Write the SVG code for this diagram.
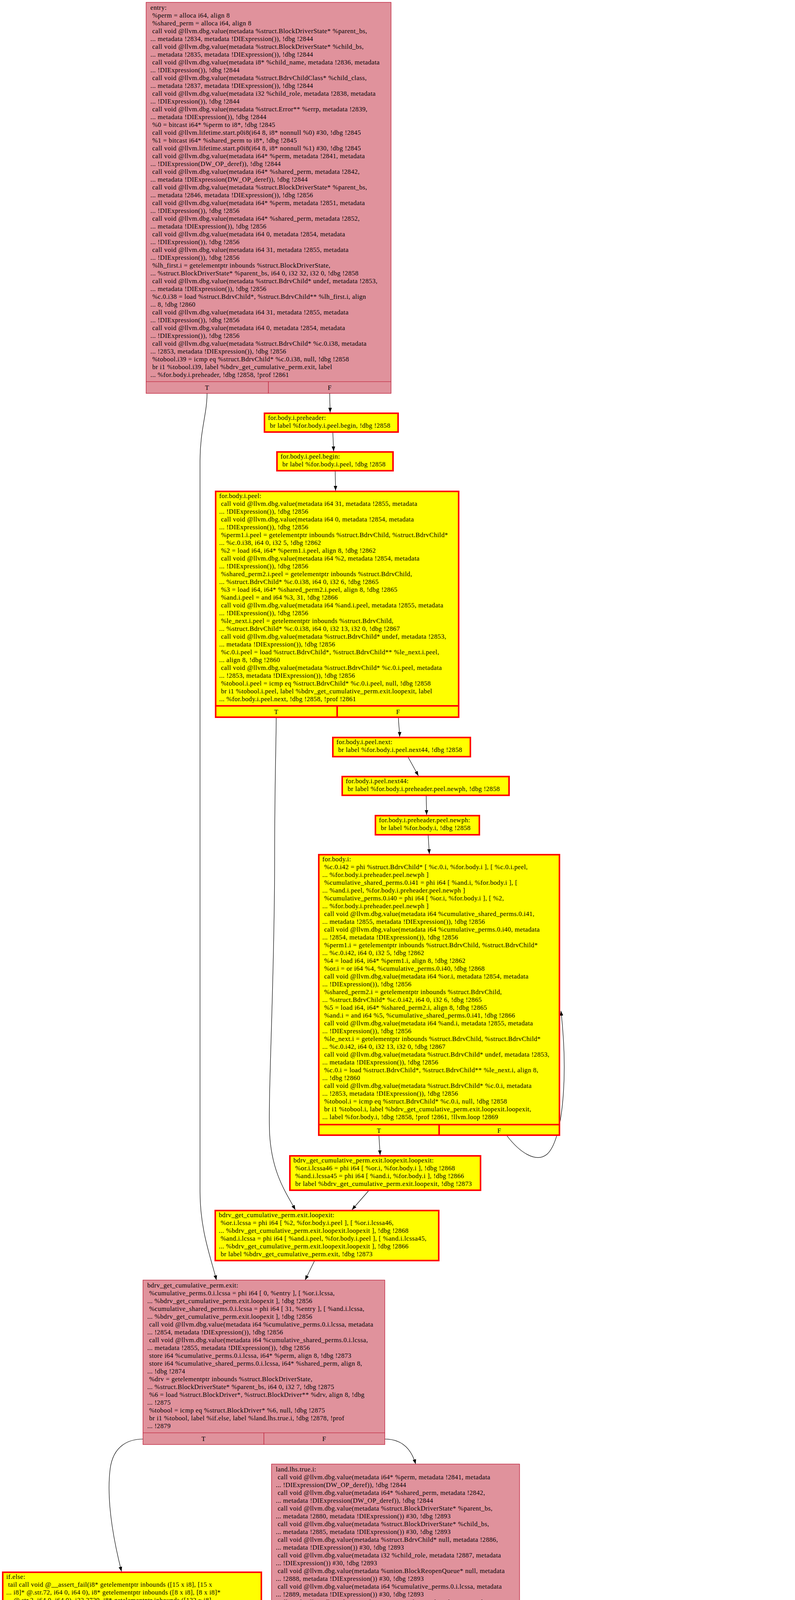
<svg xmlns="http://www.w3.org/2000/svg" width="2035" height="6509" viewBox="0 0 2035 6509">
<style>
.pk{fill:#e0929c;stroke:#b70d28;stroke-width:1.2}
.pl{fill:none;stroke:#b70d28;stroke-width:1.2}
.yl{fill:#ffff00;stroke:#ff0000;stroke-width:4}
.wh{fill:#ffffff;stroke:#ff0000;stroke-width:4}
.rl{fill:none;stroke:#ff0000;stroke-width:4}
text{font-family:"Liberation Serif","Times New Roman",serif;font-size:16.8px;letter-spacing:0.45px;fill:#000}
.c{text-anchor:middle}
.e{fill:none;stroke:#000;stroke-width:1.2;marker-end:url(#ah)}
</style>
<defs>
<marker id="ah" markerUnits="userSpaceOnUse" markerWidth="13" markerHeight="10" refX="12" refY="4.5" orient="auto"><path d="M0,0L12,4.5L0,9z" fill="#000"/></marker>
</defs>
<rect x="0" y="0" width="2035" height="6509" fill="#fff"/>

<g id="edges">
<path class="e" d="M530,1007C530,1060 512,1100 512,1180L512,3050C512,3150 540,3220 554,3277"/>
<path class="e" d="M844,1007C844,1030 845,1040 845,1056"/>
<path class="e" d="M852,1108L854,1155"/>
<path class="e" d="M858,1207L859,1256"/>
<path class="e" d="M707,1838C707,1900 703,2000 703,2200C703,2500 686,2800 690,2900C695,3000 730,3050 756,3097"/>
<path class="e" d="M1020,1838C1020,1855 1023,1870 1023,1886"/>
<path class="e" d="M1045,1939L1071,1986"/>
<path class="e" d="M1091,2038L1092,2086"/>
<path class="e" d="M1096,2139L1099,2186"/>
<path class="e" d="M970,2908L973,2957"/>
<path class="e" d="M1298,2908C1330,2950 1372,2978 1400,2955C1440,2920 1455,2760 1436,2588"/>
<path class="e" d="M943,3049L901,3097"/>
<path class="e" d="M805,3228L781,3277"/>
<path class="e" d="M366,3684C330,3684 290,3700 282,3760C272,3840 290,3940 311,4023"/>
<path class="e" d="M985,3684C1020,3684 1050,3700 1064,3748"/>
<path class="e" d="M695,4434C686,4440 682,4470 680,4523"/>
<path class="e" d="M1330,4434C1355,4434 1366,4460 1368,4499"/>
<path class="e" d="M1189,4700C1189,4800 1195,4900 1220,4980C1240,5040 1255,5070 1264,5100"/>
<path class="e" d="M1508,4700L1508,4750"/>
<path class="e" d="M1367,4931L1367,5100"/>
<path class="e" d="M1655,4931C1655,4950 1652,4965 1651,4980"/>
<path class="e" d="M1605,5052L1566,5100"/>
<path class="e" d="M1203,5582C1203,5750 1145,5900 1145,6064C1145,6200 1200,6320 1269,6382"/>
<path class="e" d="M1531,5582L1531,5631"/>
<path class="e" d="M1387,5893C1387,5980 1360,6050 1380,6100C1392,6130 1405,6150 1419,6162"/>
<path class="e" d="M1690,5893C1690,5915 1692,5925 1692,5942"/>
<path class="e" d="M1645,6113L1607,6162"/>
<path class="e" d="M1457,6333L1413,6382"/>
</g>

<g id="entry">
<rect class="pk" x="374" y="6" width="627" height="1001"/>
<path class="pl" d="M374,977H1001M687,977V1007"/>
<text x="385" y="25" xml:space="preserve"><tspan x="385">entry:</tspan><tspan x="385" dy="20"> %perm = alloca i64, align 8</tspan><tspan x="385" dy="20"> %shared_perm = alloca i64, align 8</tspan><tspan x="385" dy="20"> call void @llvm.dbg.value(metadata %struct.BlockDriverState* %parent_bs,</tspan><tspan x="385" dy="20">... metadata !2834, metadata !DIExpression()), !dbg !2844</tspan><tspan x="385" dy="20"> call void @llvm.dbg.value(metadata %struct.BlockDriverState* %child_bs,</tspan><tspan x="385" dy="20">... metadata !2835, metadata !DIExpression()), !dbg !2844</tspan><tspan x="385" dy="20"> call void @llvm.dbg.value(metadata i8* %child_name, metadata !2836, metadata</tspan><tspan x="385" dy="20">... !DIExpression()), !dbg !2844</tspan><tspan x="385" dy="20"> call void @llvm.dbg.value(metadata %struct.BdrvChildClass* %child_class,</tspan><tspan x="385" dy="20">... metadata !2837, metadata !DIExpression()), !dbg !2844</tspan><tspan x="385" dy="20"> call void @llvm.dbg.value(metadata i32 %child_role, metadata !2838, metadata</tspan><tspan x="385" dy="20">... !DIExpression()), !dbg !2844</tspan><tspan x="385" dy="20"> call void @llvm.dbg.value(metadata %struct.Error** %errp, metadata !2839,</tspan><tspan x="385" dy="20">... metadata !DIExpression()), !dbg !2844</tspan><tspan x="385" dy="20"> %0 = bitcast i64* %perm to i8*, !dbg !2845</tspan><tspan x="385" dy="20"> call void @llvm.lifetime.start.p0i8(i64 8, i8* nonnull %0) #30, !dbg !2845</tspan><tspan x="385" dy="20"> %1 = bitcast i64* %shared_perm to i8*, !dbg !2845</tspan><tspan x="385" dy="20"> call void @llvm.lifetime.start.p0i8(i64 8, i8* nonnull %1) #30, !dbg !2845</tspan><tspan x="385" dy="20"> call void @llvm.dbg.value(metadata i64* %perm, metadata !2841, metadata</tspan><tspan x="385" dy="20">... !DIExpression(DW_OP_deref)), !dbg !2844</tspan><tspan x="385" dy="20"> call void @llvm.dbg.value(metadata i64* %shared_perm, metadata !2842,</tspan><tspan x="385" dy="20">... metadata !DIExpression(DW_OP_deref)), !dbg !2844</tspan><tspan x="385" dy="20"> call void @llvm.dbg.value(metadata %struct.BlockDriverState* %parent_bs,</tspan><tspan x="385" dy="20">... metadata !2846, metadata !DIExpression()), !dbg !2856</tspan><tspan x="385" dy="20"> call void @llvm.dbg.value(metadata i64* %perm, metadata !2851, metadata</tspan><tspan x="385" dy="20">... !DIExpression()), !dbg !2856</tspan><tspan x="385" dy="20"> call void @llvm.dbg.value(metadata i64* %shared_perm, metadata !2852,</tspan><tspan x="385" dy="20">... metadata !DIExpression()), !dbg !2856</tspan><tspan x="385" dy="20"> call void @llvm.dbg.value(metadata i64 0, metadata !2854, metadata</tspan><tspan x="385" dy="20">... !DIExpression()), !dbg !2856</tspan><tspan x="385" dy="20"> call void @llvm.dbg.value(metadata i64 31, metadata !2855, metadata</tspan><tspan x="385" dy="20">... !DIExpression()), !dbg !2856</tspan><tspan x="385" dy="20"> %lh_first.i = getelementptr inbounds %struct.BlockDriverState,</tspan><tspan x="385" dy="20">... %struct.BlockDriverState* %parent_bs, i64 0, i32 32, i32 0, !dbg !2858</tspan><tspan x="385" dy="20"> call void @llvm.dbg.value(metadata %struct.BdrvChild* undef, metadata !2853,</tspan><tspan x="385" dy="20">... metadata !DIExpression()), !dbg !2856</tspan><tspan x="385" dy="20"> %c.0.i38 = load %struct.BdrvChild*, %struct.BdrvChild** %lh_first.i, align</tspan><tspan x="385" dy="20">... 8, !dbg !2860</tspan><tspan x="385" dy="20"> call void @llvm.dbg.value(metadata i64 31, metadata !2855, metadata</tspan><tspan x="385" dy="20">... !DIExpression()), !dbg !2856</tspan><tspan x="385" dy="20"> call void @llvm.dbg.value(metadata i64 0, metadata !2854, metadata</tspan><tspan x="385" dy="20">... !DIExpression()), !dbg !2856</tspan><tspan x="385" dy="20"> call void @llvm.dbg.value(metadata %struct.BdrvChild* %c.0.i38, metadata</tspan><tspan x="385" dy="20">... !2853, metadata !DIExpression()), !dbg !2856</tspan><tspan x="385" dy="20"> %tobool.i39 = icmp eq %struct.BdrvChild* %c.0.i38, null, !dbg !2858</tspan><tspan x="385" dy="20"> br i1 %tobool.i39, label %bdrv_get_cumulative_perm.exit, label</tspan><tspan x="385" dy="20">... %for.body.i.preheader, !dbg !2858, !prof !2861</tspan></text>
<text class="c" x="530" y="998">T</text><text class="c" x="844" y="998">F</text>
</g>

<g id="for.body.i.preheader">
<rect class="yl" x="677" y="1058" width="342" height="48"/>
<text x="686" y="1075" xml:space="preserve"><tspan x="686">for.body.i.preheader:</tspan><tspan x="686" dy="20"> br label %for.body.i.peel.begin, !dbg !2858</tspan></text>
</g>

<g id="for.body.i.peel.begin">
<rect class="yl" x="709" y="1157" width="297" height="48"/>
<text x="718" y="1174" xml:space="preserve"><tspan x="718">for.body.i.peel.begin:</tspan><tspan x="718" dy="20"> br label %for.body.i.peel, !dbg !2858</tspan></text>
</g>

<g id="for.body.i.peel">
<rect class="yl" x="552" y="1258" width="622" height="578"/>
<path class="rl" d="M552,1807H1174M863,1807V1836"/>
<text x="561" y="1275" xml:space="preserve"><tspan x="561">for.body.i.peel:</tspan><tspan x="561" dy="20"> call void @llvm.dbg.value(metadata i64 31, metadata !2855, metadata</tspan><tspan x="561" dy="20">... !DIExpression()), !dbg !2856</tspan><tspan x="561" dy="20"> call void @llvm.dbg.value(metadata i64 0, metadata !2854, metadata</tspan><tspan x="561" dy="20">... !DIExpression()), !dbg !2856</tspan><tspan x="561" dy="20"> %perm1.i.peel = getelementptr inbounds %struct.BdrvChild, %struct.BdrvChild*</tspan><tspan x="561" dy="20">... %c.0.i38, i64 0, i32 5, !dbg !2862</tspan><tspan x="561" dy="20"> %2 = load i64, i64* %perm1.i.peel, align 8, !dbg !2862</tspan><tspan x="561" dy="20"> call void @llvm.dbg.value(metadata i64 %2, metadata !2854, metadata</tspan><tspan x="561" dy="20">... !DIExpression()), !dbg !2856</tspan><tspan x="561" dy="20"> %shared_perm2.i.peel = getelementptr inbounds %struct.BdrvChild,</tspan><tspan x="561" dy="20">... %struct.BdrvChild* %c.0.i38, i64 0, i32 6, !dbg !2865</tspan><tspan x="561" dy="20"> %3 = load i64, i64* %shared_perm2.i.peel, align 8, !dbg !2865</tspan><tspan x="561" dy="20"> %and.i.peel = and i64 %3, 31, !dbg !2866</tspan><tspan x="561" dy="20"> call void @llvm.dbg.value(metadata i64 %and.i.peel, metadata !2855, metadata</tspan><tspan x="561" dy="20">... !DIExpression()), !dbg !2856</tspan><tspan x="561" dy="20"> %le_next.i.peel = getelementptr inbounds %struct.BdrvChild,</tspan><tspan x="561" dy="20">... %struct.BdrvChild* %c.0.i38, i64 0, i32 13, i32 0, !dbg !2867</tspan><tspan x="561" dy="20"> call void @llvm.dbg.value(metadata %struct.BdrvChild* undef, metadata !2853,</tspan><tspan x="561" dy="20">... metadata !DIExpression()), !dbg !2856</tspan><tspan x="561" dy="20"> %c.0.i.peel = load %struct.BdrvChild*, %struct.BdrvChild** %le_next.i.peel,</tspan><tspan x="561" dy="20">... align 8, !dbg !2860</tspan><tspan x="561" dy="20"> call void @llvm.dbg.value(metadata %struct.BdrvChild* %c.0.i.peel, metadata</tspan><tspan x="561" dy="20">... !2853, metadata !DIExpression()), !dbg !2856</tspan><tspan x="561" dy="20"> %tobool.i.peel = icmp eq %struct.BdrvChild* %c.0.i.peel, null, !dbg !2858</tspan><tspan x="561" dy="20"> br i1 %tobool.i.peel, label %bdrv_get_cumulative_perm.exit.loopexit, label</tspan><tspan x="561" dy="20">... %for.body.i.peel.next, !dbg !2858, !prof !2861</tspan></text>
<text class="c" x="707" y="1828">T</text><text class="c" x="1019" y="1828">F</text>
</g>

<g id="for.body.i.peel.next">
<rect class="yl" x="852" y="1888" width="352" height="49"/>
<text x="861" y="1905" xml:space="preserve"><tspan x="861">for.body.i.peel.next:</tspan><tspan x="861" dy="20"> br label %for.body.i.peel.next44, !dbg !2858</tspan></text>
</g>

<g id="for.body.i.peel.next44">
<rect class="yl" x="876" y="1988" width="427" height="48"/>
<text x="885" y="2005" xml:space="preserve"><tspan x="885">for.body.i.peel.next44:</tspan><tspan x="885" dy="20"> br label %for.body.i.preheader.peel.newph, !dbg !2858</tspan></text>
</g>

<g id="for.body.i.preheader.peel.newph">
<rect class="yl" x="961" y="2088" width="266" height="49"/>
<text x="970" y="2105" xml:space="preserve"><tspan x="970">for.body.i.preheader.peel.newph:</tspan><tspan x="970" dy="20"> br label %for.body.i, !dbg !2858</tspan></text>
</g>

<g id="for.body.i">
<rect class="yl" x="816" y="2188" width="616" height="718"/>
<path class="rl" d="M816,2879H1432M1124,2879V2906"/>
<text x="825" y="2205" xml:space="preserve"><tspan x="825">for.body.i:</tspan><tspan x="825" dy="20"> %c.0.i42 = phi %struct.BdrvChild* [ %c.0.i, %for.body.i ], [ %c.0.i.peel,</tspan><tspan x="825" dy="20">... %for.body.i.preheader.peel.newph ]</tspan><tspan x="825" dy="20"> %cumulative_shared_perms.0.i41 = phi i64 [ %and.i, %for.body.i ], [</tspan><tspan x="825" dy="20">... %and.i.peel, %for.body.i.preheader.peel.newph ]</tspan><tspan x="825" dy="20"> %cumulative_perms.0.i40 = phi i64 [ %or.i, %for.body.i ], [ %2,</tspan><tspan x="825" dy="20">... %for.body.i.preheader.peel.newph ]</tspan><tspan x="825" dy="20"> call void @llvm.dbg.value(metadata i64 %cumulative_shared_perms.0.i41,</tspan><tspan x="825" dy="20">... metadata !2855, metadata !DIExpression()), !dbg !2856</tspan><tspan x="825" dy="20"> call void @llvm.dbg.value(metadata i64 %cumulative_perms.0.i40, metadata</tspan><tspan x="825" dy="20">... !2854, metadata !DIExpression()), !dbg !2856</tspan><tspan x="825" dy="20"> %perm1.i = getelementptr inbounds %struct.BdrvChild, %struct.BdrvChild*</tspan><tspan x="825" dy="20">... %c.0.i42, i64 0, i32 5, !dbg !2862</tspan><tspan x="825" dy="20"> %4 = load i64, i64* %perm1.i, align 8, !dbg !2862</tspan><tspan x="825" dy="20"> %or.i = or i64 %4, %cumulative_perms.0.i40, !dbg !2868</tspan><tspan x="825" dy="20"> call void @llvm.dbg.value(metadata i64 %or.i, metadata !2854, metadata</tspan><tspan x="825" dy="20">... !DIExpression()), !dbg !2856</tspan><tspan x="825" dy="20"> %shared_perm2.i = getelementptr inbounds %struct.BdrvChild,</tspan><tspan x="825" dy="20">... %struct.BdrvChild* %c.0.i42, i64 0, i32 6, !dbg !2865</tspan><tspan x="825" dy="20"> %5 = load i64, i64* %shared_perm2.i, align 8, !dbg !2865</tspan><tspan x="825" dy="20"> %and.i = and i64 %5, %cumulative_shared_perms.0.i41, !dbg !2866</tspan><tspan x="825" dy="20"> call void @llvm.dbg.value(metadata i64 %and.i, metadata !2855, metadata</tspan><tspan x="825" dy="20">... !DIExpression()), !dbg !2856</tspan><tspan x="825" dy="20"> %le_next.i = getelementptr inbounds %struct.BdrvChild, %struct.BdrvChild*</tspan><tspan x="825" dy="20">... %c.0.i42, i64 0, i32 13, i32 0, !dbg !2867</tspan><tspan x="825" dy="20"> call void @llvm.dbg.value(metadata %struct.BdrvChild* undef, metadata !2853,</tspan><tspan x="825" dy="20">... metadata !DIExpression()), !dbg !2856</tspan><tspan x="825" dy="20"> %c.0.i = load %struct.BdrvChild*, %struct.BdrvChild** %le_next.i, align 8,</tspan><tspan x="825" dy="20">... !dbg !2860</tspan><tspan x="825" dy="20"> call void @llvm.dbg.value(metadata %struct.BdrvChild* %c.0.i, metadata</tspan><tspan x="825" dy="20">... !2853, metadata !DIExpression()), !dbg !2856</tspan><tspan x="825" dy="20"> %tobool.i = icmp eq %struct.BdrvChild* %c.0.i, null, !dbg !2858</tspan><tspan x="825" dy="20"> br i1 %tobool.i, label %bdrv_get_cumulative_perm.exit.loopexit.loopexit,</tspan><tspan x="825" dy="20">... label %for.body.i, !dbg !2858, !prof !2861, !llvm.loop !2869</tspan></text>
<text class="c" x="970" y="2900">T</text><text class="c" x="1278" y="2900">F</text>
</g>

<g id="bdrv_get_cumulative_perm.exit.loopexit.loopexit">
<rect class="yl" x="742" y="2959" width="488" height="88"/>
<text x="751" y="2976" xml:space="preserve"><tspan x="751">bdrv_get_cumulative_perm.exit.loopexit.loopexit:</tspan><tspan x="751" dy="20"> %or.i.lcssa46 = phi i64 [ %or.i, %for.body.i ], !dbg !2868</tspan><tspan x="751" dy="20"> %and.i.lcssa45 = phi i64 [ %and.i, %for.body.i ], !dbg !2866</tspan><tspan x="751" dy="20"> br label %bdrv_get_cumulative_perm.exit.loopexit, !dbg !2873</tspan></text>
</g>

<g id="bdrv_get_cumulative_perm.exit.loopexit">
<rect class="yl" x="551" y="3099" width="572" height="128"/>
<text x="560" y="3116" xml:space="preserve"><tspan x="560">bdrv_get_cumulative_perm.exit.loopexit:</tspan><tspan x="560" dy="20"> %or.i.lcssa = phi i64 [ %2, %for.body.i.peel ], [ %or.i.lcssa46,</tspan><tspan x="560" dy="20">... %bdrv_get_cumulative_perm.exit.loopexit.loopexit ], !dbg !2868</tspan><tspan x="560" dy="20"> %and.i.lcssa = phi i64 [ %and.i.peel, %for.body.i.peel ], [ %and.i.lcssa45,</tspan><tspan x="560" dy="20">... %bdrv_get_cumulative_perm.exit.loopexit.loopexit ], !dbg !2866</tspan><tspan x="560" dy="20"> br label %bdrv_get_cumulative_perm.exit, !dbg !2873</tspan></text>
</g>

<g id="bdrv_get_cumulative_perm.exit">
<rect class="pk" x="366" y="3277" width="619" height="421"/>
<path class="pl" d="M366,3668H985M675.5,3668V3698"/>
<text x="377" y="3296" xml:space="preserve"><tspan x="377">bdrv_get_cumulative_perm.exit:</tspan><tspan x="377" dy="20"> %cumulative_perms.0.i.lcssa = phi i64 [ 0, %entry ], [ %or.i.lcssa,</tspan><tspan x="377" dy="20">... %bdrv_get_cumulative_perm.exit.loopexit ], !dbg !2856</tspan><tspan x="377" dy="20"> %cumulative_shared_perms.0.i.lcssa = phi i64 [ 31, %entry ], [ %and.i.lcssa,</tspan><tspan x="377" dy="20">... %bdrv_get_cumulative_perm.exit.loopexit ], !dbg !2856</tspan><tspan x="377" dy="20"> call void @llvm.dbg.value(metadata i64 %cumulative_perms.0.i.lcssa, metadata</tspan><tspan x="377" dy="20">... !2854, metadata !DIExpression()), !dbg !2856</tspan><tspan x="377" dy="20"> call void @llvm.dbg.value(metadata i64 %cumulative_shared_perms.0.i.lcssa,</tspan><tspan x="377" dy="20">... metadata !2855, metadata !DIExpression()), !dbg !2856</tspan><tspan x="377" dy="20"> store i64 %cumulative_perms.0.i.lcssa, i64* %perm, align 8, !dbg !2873</tspan><tspan x="377" dy="20"> store i64 %cumulative_shared_perms.0.i.lcssa, i64* %shared_perm, align 8,</tspan><tspan x="377" dy="20">... !dbg !2874</tspan><tspan x="377" dy="20"> %drv = getelementptr inbounds %struct.BlockDriverState,</tspan><tspan x="377" dy="20">... %struct.BlockDriverState* %parent_bs, i64 0, i32 7, !dbg !2875</tspan><tspan x="377" dy="20"> %6 = load %struct.BlockDriver*, %struct.BlockDriver** %drv, align 8, !dbg</tspan><tspan x="377" dy="20">... !2875</tspan><tspan x="377" dy="20"> %tobool = icmp eq %struct.BlockDriver* %6, null, !dbg !2875</tspan><tspan x="377" dy="20"> br i1 %tobool, label %if.else, label %land.lhs.true.i, !dbg !2878, !prof</tspan><tspan x="377" dy="20">... !2879</tspan></text>
<text class="c" x="521" y="3689">T</text><text class="c" x="830" y="3689">F</text>
</g>

<g id="if.else">
<rect class="yl" x="7" y="4025" width="662" height="148"/>
<text x="16" y="4042" xml:space="preserve"><tspan x="16">if.else:</tspan><tspan x="16" dy="20"> tail call void @__assert_fail(i8* getelementptr inbounds ([15 x i8], [15 x</tspan><tspan x="16" dy="20">... i8]* @.str.72, i64 0, i64 0), i8* getelementptr inbounds ([8 x i8], [8 x i8]*</tspan><tspan x="16" dy="20">... @.str.2, i64 0, i64 0), i32 2739, i8* getelementptr inbounds ([132 x i8],</tspan><tspan x="16" dy="20">... [132 x i8]* @__PRETTY_FUNCTION__.bdrv_attach_child, i64 0, i64 0)) #31, !dbg</tspan><tspan x="16" dy="20">... !2875</tspan><tspan x="16" dy="20"> unreachable, !dbg !2875</tspan></text>
</g>

<g id="land.lhs.true.i">
<rect class="pk" x="695" y="3748" width="635" height="701"/>
<path class="pl" d="M695,4419H1330M1012.5,4419V4449"/>
<text x="706" y="3767" xml:space="preserve"><tspan x="706">land.lhs.true.i:</tspan><tspan x="706" dy="20"> call void @llvm.dbg.value(metadata i64* %perm, metadata !2841, metadata</tspan><tspan x="706" dy="20">... !DIExpression(DW_OP_deref)), !dbg !2844</tspan><tspan x="706" dy="20"> call void @llvm.dbg.value(metadata i64* %shared_perm, metadata !2842,</tspan><tspan x="706" dy="20">... metadata !DIExpression(DW_OP_deref)), !dbg !2844</tspan><tspan x="706" dy="20"> call void @llvm.dbg.value(metadata %struct.BlockDriverState* %parent_bs,</tspan><tspan x="706" dy="20">... metadata !2880, metadata !DIExpression()) #30, !dbg !2893</tspan><tspan x="706" dy="20"> call void @llvm.dbg.value(metadata %struct.BlockDriverState* %child_bs,</tspan><tspan x="706" dy="20">... metadata !2885, metadata !DIExpression()) #30, !dbg !2893</tspan><tspan x="706" dy="20"> call void @llvm.dbg.value(metadata %struct.BdrvChild* null, metadata !2886,</tspan><tspan x="706" dy="20">... metadata !DIExpression()) #30, !dbg !2893</tspan><tspan x="706" dy="20"> call void @llvm.dbg.value(metadata i32 %child_role, metadata !2887, metadata</tspan><tspan x="706" dy="20">... !DIExpression()) #30, !dbg !2893</tspan><tspan x="706" dy="20"> call void @llvm.dbg.value(metadata %union.BlockReopenQueue* null, metadata</tspan><tspan x="706" dy="20">... !2888, metadata !DIExpression()) #30, !dbg !2893</tspan><tspan x="706" dy="20"> call void @llvm.dbg.value(metadata i64 %cumulative_perms.0.i.lcssa, metadata</tspan><tspan x="706" dy="20">... !2889, metadata !DIExpression()) #30, !dbg !2893</tspan><tspan x="706" dy="20"> call void @llvm.dbg.value(metadata i64 %cumulative_shared_perms.0.i.lcssa,</tspan><tspan x="706" dy="20">... metadata !2890, metadata !DIExpression()) #30, !dbg !2893</tspan><tspan x="706" dy="20"> call void @llvm.dbg.value(metadata i64* %perm, metadata !2891, metadata</tspan><tspan x="706" dy="20">... !DIExpression()) #30, !dbg !2893</tspan><tspan x="706" dy="20"> call void @llvm.dbg.value(metadata i64* %shared_perm, metadata !2892,</tspan><tspan x="706" dy="20">... metadata !DIExpression()) #30, !dbg !2893</tspan><tspan x="706" dy="20"> %bdrv_child_perm.i = getelementptr inbounds %struct.BlockDriver,</tspan><tspan x="706" dy="20">... %struct.BlockDriver* %6, i64 0, i32 93, !dbg !2895</tspan><tspan x="706" dy="20"> %7 = load void (%struct.BlockDriverState*, %struct.BdrvChild*, i32,</tspan><tspan x="706" dy="20">... %union.BlockReopenQueue*, i64, i64, i64*, i64*)*, void</tspan><tspan x="706" dy="20">... (%struct.BlockDriverState*, %struct.BdrvChild*, i32,</tspan><tspan x="706" dy="20">... %union.BlockReopenQueue*, i64, i64, i64*, i64*)** %bdrv_child_perm.i, align</tspan><tspan x="706" dy="20">... 8, !dbg !2895</tspan><tspan x="706" dy="20"> %tobool2.i = icmp eq void (%struct.BlockDriverState*, %struct.BdrvChild*,</tspan><tspan x="706" dy="20">... i32, %union.BlockReopenQueue*, i64, i64, i64*, i64*)* %7, null, !dbg !2895</tspan><tspan x="706" dy="20"> br i1 %tobool2.i, label %if.else.i, label %if.end.i, !dbg !2898, !prof !2899</tspan></text>
<text class="c" x="854" y="4440">T</text><text class="c" x="1171" y="4440">F</text>
</g>

<g id="if.else.i">
<rect class="yl" x="353" y="4525" width="650" height="149"/>
<text x="362" y="4542" xml:space="preserve"><tspan x="362">if.else.i:</tspan><tspan x="362" dy="20"> tail call void @__assert_fail(i8* getelementptr inbounds ([36 x i8], [36 x</tspan><tspan x="362" dy="20">... i8]* @.str.166, i64 0, i64 0), i8* getelementptr inbounds ([8 x i8], [8 x</tspan><tspan x="362" dy="20">... i8]* @.str.2, i64 0, i64 0), i32 1955, i8* getelementptr inbounds ([153 x</tspan><tspan x="362" dy="20">... i8], [153 x i8]* @__PRETTY_FUNCTION__.bdrv_child_perm, i64 0, i64 0)) #31,</tspan><tspan x="362" dy="20">... !dbg !2895</tspan><tspan x="362" dy="20"> unreachable, !dbg !2895</tspan></text>
</g>

<g id="if.end.i">
<rect class="pk" x="1028" y="4499" width="641" height="201"/>
<path class="pl" d="M1028,4670H1669M1348.5,4670V4700"/>
<text x="1039" y="4518" xml:space="preserve"><tspan x="1039">if.end.i:</tspan><tspan x="1039" dy="20"> call void %7(%struct.BlockDriverState* nonnull %parent_bs,</tspan><tspan x="1039" dy="20">... %struct.BdrvChild* null, i32 %child_role, %union.BlockReopenQueue* null, i64</tspan><tspan x="1039" dy="20">... %cumulative_perms.0.i.lcssa, i64 %cumulative_shared_perms.0.i.lcssa, i64*</tspan><tspan x="1039" dy="20">... nonnull %perm, i64* nonnull %shared_perm) #30, !dbg !2900, !prof !2901</tspan><tspan x="1039" dy="20"> %tobool5.i = icmp eq %struct.BlockDriverState* %child_bs, null, !dbg !2902</tspan><tspan x="1039" dy="20"> br i1 %tobool5.i, label %bdrv_get_aio_context.exit, label %land.lhs.true6.i,</tspan><tspan x="1039" dy="20">... !dbg !2904, !prof !2899</tspan></text>
<text class="c" x="1189" y="4691">T</text><text class="c" x="1509" y="4691">F</text>
</g>

<g id="land.lhs.true6.i">
<rect class="pk" x="1222" y="4750" width="577" height="181"/>
<path class="pl" d="M1222,4901H1799M1510.5,4901V4931"/>
<text x="1233" y="4769" xml:space="preserve"><tspan x="1233">land.lhs.true6.i:</tspan><tspan x="1233" dy="20"> %force_share.i = getelementptr inbounds %struct.BlockDriverState,</tspan><tspan x="1233" dy="20">... %struct.BlockDriverState* %child_bs, i64 0, i32 5, !dbg !2905</tspan><tspan x="1233" dy="20"> %8 = load i8, i8* %force_share.i, align 8, !dbg !2905, !range !2906</tspan><tspan x="1233" dy="20"> %tobool7.i = icmp eq i8 %8, 0, !dbg !2905</tspan><tspan x="1233" dy="20"> br i1 %tobool7.i, label %bdrv_get_aio_context.exit, label %if.then8.i, !dbg</tspan><tspan x="1233" dy="20">... !2907, !prof !2908</tspan></text>
<text class="c" x="1366" y="4922">T</text><text class="c" x="1655" y="4922">F</text>
</g>

<g id="if.then8.i">
<rect class="wh" x="1426" y="4982" width="418" height="68"/>
<text x="1435" y="4999" xml:space="preserve"><tspan x="1435">if.then8.i:</tspan><tspan x="1435" dy="20"> store i64 31, i64* %shared_perm, align 8, !dbg !2909</tspan><tspan x="1435" dy="20"> br label %bdrv_get_aio_context.exit, !dbg !2911</tspan></text>
</g>

<g id="bdrv_get_aio_context.exit">
<rect class="pk" x="1040" y="5100" width="654" height="482"/>
<path class="pl" d="M1040,5551H1694M1367,5551V5582"/>
<text x="1051" y="5119" xml:space="preserve"><tspan x="1051">bdrv_get_aio_context.exit:</tspan><tspan x="1051" dy="20"> call void @llvm.dbg.value(metadata %struct.BlockDriverState* %parent_bs,</tspan><tspan x="1051" dy="20">... metadata !2912, metadata !DIExpression()) #30, !dbg !2917</tspan><tspan x="1051" dy="20"> %aio_context.i = getelementptr inbounds %struct.BlockDriverState,</tspan><tspan x="1051" dy="20">... %struct.BlockDriverState* %parent_bs, i64 0, i32 9, !dbg !2919</tspan><tspan x="1051" dy="20"> %9 = load %struct.AioContext*, %struct.AioContext** %aio_context.i, align 8,</tspan><tspan x="1051" dy="20">... !dbg !2919</tspan><tspan x="1051" dy="20"> %10 = load i64, i64* %perm, align 8, !dbg !2920</tspan><tspan x="1051" dy="20"> call void @llvm.dbg.value(metadata i64 %10, metadata !2841, metadata</tspan><tspan x="1051" dy="20">... !DIExpression()), !dbg !2844</tspan><tspan x="1051" dy="20"> %11 = load i64, i64* %shared_perm, align 8, !dbg !2921</tspan><tspan x="1051" dy="20"> call void @llvm.dbg.value(metadata i64 %11, metadata !2842, metadata</tspan><tspan x="1051" dy="20">... !DIExpression()), !dbg !2844</tspan><tspan x="1051" dy="20"> %12 = bitcast %struct.BlockDriverState* %parent_bs to i8*, !dbg !2922</tspan><tspan x="1051" dy="20"> %call1 = call %struct.BdrvChild*</tspan><tspan x="1051" dy="20">... @bdrv_root_attach_child(%struct.BlockDriverState* %child_bs, i8* %child_name,</tspan><tspan x="1051" dy="20">... %struct.BdrvChildClass* %child_class, i32 %child_role, %struct.AioContext*</tspan><tspan x="1051" dy="20">... %9, i64 %10, i64 %11, i8* %12, %struct.Error** %errp), !dbg !2923</tspan><tspan x="1051" dy="20"> call void @llvm.dbg.value(metadata %struct.BdrvChild* %call1, metadata</tspan><tspan x="1051" dy="20">... !2840, metadata !DIExpression()), !dbg !2844</tspan><tspan x="1051" dy="20"> %cmp = icmp eq %struct.BdrvChild* %call1, null, !dbg !2924</tspan><tspan x="1051" dy="20"> br i1 %cmp, label %cleanup, label %do.body, !dbg !2926, !prof !2879</tspan></text>
<text class="c" x="1203" y="5572">T</text><text class="c" x="1531" y="5572">F</text>
</g>

<g id="do.body">
<rect class="pk" x="1235" y="5631" width="606" height="262"/>
<path class="pl" d="M1235,5862H1841M1538,5862V5893"/>
<text x="1246" y="5650" xml:space="preserve"><tspan x="1246">do.body:</tspan><tspan x="1246" dy="20"> %lh_first = getelementptr inbounds %struct.BlockDriverState,</tspan><tspan x="1246" dy="20">... %struct.BlockDriverState* %parent_bs, i64 0, i32 31, i32 0, !dbg !2927</tspan><tspan x="1246" dy="20"> %13 = load %struct.BdrvChild*, %struct.BdrvChild** %lh_first, align 8, !dbg</tspan><tspan x="1246" dy="20">... !2927</tspan><tspan x="1246" dy="20"> %le_next = getelementptr inbounds %struct.BdrvChild, %struct.BdrvChild*</tspan><tspan x="1246" dy="20">... %call1, i64 0, i32 12, i32 0, !dbg !2927</tspan><tspan x="1246" dy="20"> store %struct.BdrvChild* %13, %struct.BdrvChild** %le_next, align 8, !dbg</tspan><tspan x="1246" dy="20">... !2927</tspan><tspan x="1246" dy="20"> %cmp4 = icmp eq %struct.BdrvChild* %13, null, !dbg !2927</tspan><tspan x="1246" dy="20"> br i1 %cmp4, label %if.end11, label %if.then5, !dbg !2930, !prof !2861</tspan></text>
<text class="c" x="1387" y="5883">T</text><text class="c" x="1690" y="5883">F</text>
</g>

<g id="if.then5">
<rect class="wh" x="1400" y="5944" width="628" height="167"/>
<text x="1409" y="5961" xml:space="preserve"><tspan x="1409">if.then5:</tspan><tspan x="1409" dy="20"> %14 = load %struct.BdrvChild*, %struct.BdrvChild** %lh_first, align 8, !dbg</tspan><tspan x="1409" dy="20">... !2927</tspan><tspan x="1409" dy="20"> %le_prev = getelementptr inbounds %struct.BdrvChild, %struct.BdrvChild* %14,</tspan><tspan x="1409" dy="20">... i64 0, i32 12, i32 1, !dbg !2927</tspan><tspan x="1409" dy="20"> store %struct.BdrvChild** %le_next, %struct.BdrvChild*** %le_prev, align 8,</tspan><tspan x="1409" dy="20">... !dbg !2927</tspan><tspan x="1409" dy="20"> br label %if.end11, !dbg !2927</tspan></text>
</g>

<g id="if.end11">
<rect class="pk" x="1236" y="6162" width="608" height="171"/>
<text x="1247" y="6181" xml:space="preserve"><tspan x="1247">if.end11:</tspan><tspan x="1247" dy="20"> store %struct.BdrvChild* %call1, %struct.BdrvChild** %lh_first, align 8,</tspan><tspan x="1247" dy="20">... !dbg !2930</tspan><tspan x="1247" dy="20"> %le_prev17 = getelementptr inbounds %struct.BdrvChild, %struct.BdrvChild*</tspan><tspan x="1247" dy="20">... %call1, i64 0, i32 12, i32 1, !dbg !2930</tspan><tspan x="1247" dy="20"> store %struct.BdrvChild** %lh_first, %struct.BdrvChild*** %le_prev17, align</tspan><tspan x="1247" dy="20">... 8, !dbg !2930</tspan><tspan x="1247" dy="20"> br label %cleanup, !dbg !2931</tspan></text>
</g>

<g id="cleanup">
<rect class="pk" x="1083" y="6382" width="571" height="90"/>
<text x="1094" y="6401" xml:space="preserve"><tspan x="1094">cleanup:</tspan><tspan x="1094" dy="20"> call void @llvm.lifetime.end.p0i8(i64 8, i8* nonnull %1) #30, !dbg !2932</tspan><tspan x="1094" dy="20"> call void @llvm.lifetime.end.p0i8(i64 8, i8* nonnull %0) #30, !dbg !2932</tspan><tspan x="1094" dy="20"> ret %struct.BdrvChild* %call1, !dbg !2932</tspan></text>
</g>

<g id="title">
<text class="c" x="1017" y="6495">CFG for 'bdrv_attach_child' function</text>
</g>
</svg>
